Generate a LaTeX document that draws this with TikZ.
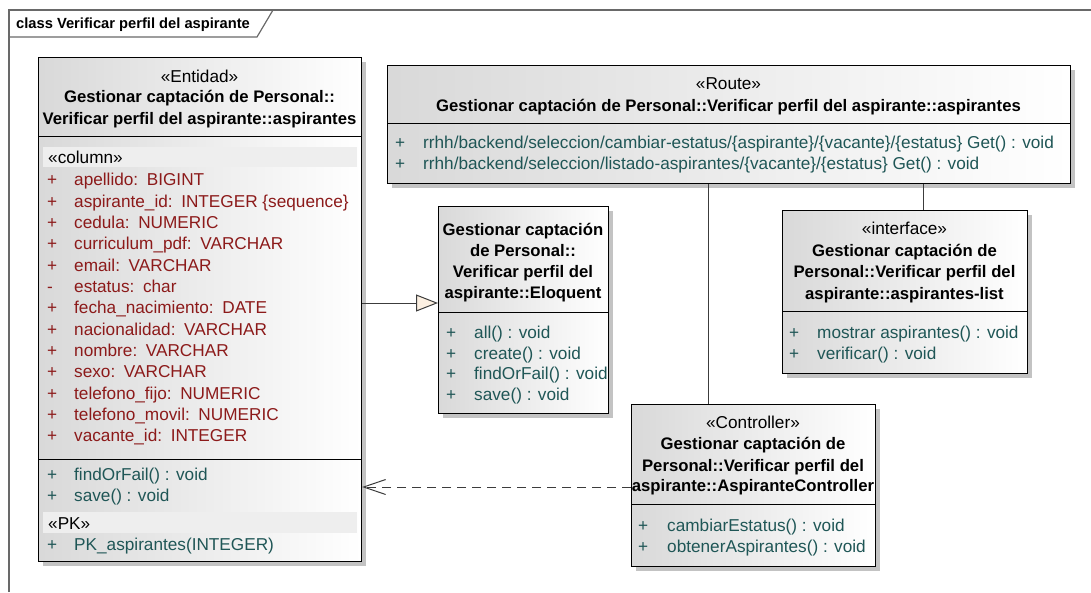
\documentclass[tikz,border=0pt]{standalone}
\usepackage{fontspec}
\setmainfont{Liberation Sans}
\usetikzlibrary{shadows,arrows.meta}
\definecolor{attrc}{RGB}{140,26,26}
\definecolor{operc}{RGB}{31,86,86}
\definecolor{bandc}{RGB}{238,238,238}
\definecolor{shadc}{RGB}{195,195,195}
\definecolor{framec}{RGB}{105,105,105}
\definecolor{connc}{RGB}{60,60,60}
\definecolor{tric}{RGB}{252,240,226}
\tikzset{
  umlbox/.style={draw=black, line width=1.1pt, left color=black!15, right color=white,
    anchor=north west, inner sep=0pt,
    drop shadow={shadow xshift=4pt, shadow yshift=-4pt, fill=shadc, opacity=1}},
  bandbox/.style={fill=bandc, anchor=north west, inner sep=0pt},
  sepline/.style={draw=black, line width=1pt},
  rowtxt/.style={font=\fontsize{17.2}{20}\selectfont, anchor=base west, inner sep=0pt},
  attrtxt/.style={rowtxt, text=attrc},
  opertxt/.style={rowtxt, text=operc},
  stereo/.style={font=\fontsize{17.2}{20}\selectfont, anchor=base, inner sep=0pt},
  ttl/.style={font=\bfseries\fontsize{16.7}{20}\selectfont, anchor=base, inner sep=0pt},
  conn/.style={draw=connc, line width=1pt},
}
\begin{document}
\begin{tikzpicture}[x=1pt,y=-1pt]
\useasboundingbox (0,0) rectangle (1091,592);
% frame
\draw[framec, line width=1.2pt] (9,592) -- (9,10) -- (1091,10);
\draw[framec, line width=1.2pt] (9,37) -- (257,37) -- (273,10);
\node[font=\bfseries\fontsize{14.7}{17}\selectfont, anchor=base west, inner sep=0pt] (flabel) at (16,28.3) {class Verificar perfil del aspirante};

% ---------- Entidad ----------
\node[umlbox, minimum width=323pt, minimum height=504pt] (ent) at (38,57) {};
\node[stereo] (entst) at (199.5,82) {«Entidad»};
\node[ttl] (entt1) at (199.5,102.5) {Gestionar captación de Personal::};
\node[ttl] (entt2) at (199.5,124) {Verificar perfil del aspirante::aspirantes};
\draw[sepline] (ent.west |- 0,136) -- (ent.east |- 0,136);
\node[bandbox, minimum width=314pt, minimum height=20pt] (entband1) at (43,147) {};
\node[rowtxt] (entcol) at (48,163) {«column»};
\foreach \s/\t [count=\i] in {
  +/{apellido:\enspace BIGINT},
  +/{aspirante\_id:\enspace INTEGER \{sequence\}},
  +/{cedula:\enspace NUMERIC},
  +/{curriculum\_pdf:\enspace VARCHAR},
  +/{email:\enspace VARCHAR},
  -/{estatus:\enspace char},
  +/{fecha\_nacimiento:\enspace DATE},
  +/{nacionalidad:\enspace VARCHAR},
  +/{nombre:\enspace VARCHAR},
  +/{sexo:\enspace VARCHAR},
  +/{telefono\_fijo:\enspace NUMERIC},
  +/{telefono\_movil:\enspace NUMERIC},
  +/{vacante\_id:\enspace INTEGER}}{
  \node[attrtxt] (eas\i) at (47,185.7+21.33*\i-21.33) {\s};
  \node[attrtxt] (ea\i) at (74,185.7+21.33*\i-21.33) {\t};
}
\draw[sepline] (ent.west |- 0,459) -- (ent.east |- 0,459);
\node[opertxt] (emp1) at (47,480) {+};
\node[opertxt] (em1) at (74,480) {findOrFail() : void};
\node[opertxt] (emp2) at (47,501.7) {+};
\node[opertxt] (em2) at (74,501.7) {save() : void};
\node[bandbox, minimum width=314pt, minimum height=21pt] (entband2) at (43,512) {};
\node[rowtxt] (entpk) at (48,529) {«PK»};
\node[opertxt] (epkp) at (47,550.7) {+};
\node[opertxt] (epk) at (74,550.7) {PK\_aspirantes(INTEGER)};

% ---------- Route ----------
\node[umlbox, minimum width=683pt, minimum height=118pt] (route) at (387,65) {};
\node[stereo] (routest) at (728.5,89) {«Route»};
\node[ttl] (routet) at (728.5,111) {Gestionar captación de Personal::Verificar perfil del aspirante::aspirantes};
\draw[sepline] (route.west |- 0,123) -- (route.east |- 0,123);
\node[opertxt] (rp1) at (395,148.5) {+};
\node[opertxt] (r1) at (423,148.5) {rrhh/backend/seleccion/cambiar-estatus/\{aspirante\}/\{vacante\}/\{estatus\} Get() : void};
\node[opertxt] (rp2) at (395,169) {+};
\node[opertxt] (r2) at (423,169) {rrhh/backend/seleccion/listado-aspirantes/\{vacante\}/\{estatus\} Get() : void};

% ---------- Eloquent ----------
\node[umlbox, minimum width=170pt, minimum height=207pt] (elo) at (438,206) {};
\node[ttl] (elot1) at (523,235.5) {Gestionar captación};
\node[ttl] (elot2) at (523,256.7) {de Personal::};
\node[ttl] (elot3) at (523,277.5) {Verificar perfil del};
\node[ttl] (elot4) at (523,298.5) {aspirante::Eloquent};
\draw[sepline] (elo.west |- 0,312) -- (elo.east |- 0,312);
\foreach \t [count=\i] in {all() : void, create() : void, findOrFail() : void, save() : void}{
  \node[opertxt] (elop\i) at (446,338.3+20.7*\i-20.7) {+};
  \node[opertxt] (elom\i) at (474,338.3+20.7*\i-20.7) {\t};
}

% ---------- Interface ----------
\node[umlbox, minimum width=245pt, minimum height=163pt] (iface) at (782,210) {};
\node[stereo] (ifst) at (904.5,234.3) {«interface»};
\node[ttl] (ift1) at (904.5,256) {Gestionar captación de};
\node[ttl] (ift2) at (904.5,277.3) {Personal::Verificar perfil del};
\node[ttl] (ift3) at (904.5,299) {aspirante::aspirantes-list};
\draw[sepline] (iface.west |- 0,311) -- (iface.east |- 0,311);
\node[opertxt] (ifp1) at (789,338.3) {+};
\node[opertxt] (ifm1) at (817,338.3) {mostrar aspirantes() : void};
\node[opertxt] (ifp2) at (789,359.3) {+};
\node[opertxt] (ifm2) at (817,359.3) {verificar() : void};

% ---------- Controller ----------
\node[umlbox, minimum width=244pt, minimum height=162pt] (ctl) at (631,404) {};
\node[stereo] (ctlst) at (753,428.3) {«Controller»};
\node[ttl] (ctlt1) at (753,449.3) {Gestionar captación de};
\node[ttl] (ctlt2) at (753,471) {Personal::Verificar perfil del};
\node[ttl] (ctlt3) at (753,491.7) {aspirante::AspiranteController};
\draw[sepline] (ctl.west |- 0,504) -- (ctl.east |- 0,504);
\node[opertxt] (ctlp1) at (638,531.7) {+};
\node[opertxt] (ctlm1) at (667,531.7) {cambiarEstatus() : void};
\node[opertxt] (ctlp2) at (638,552.7) {+};
\node[opertxt] (ctlm2) at (667,552.7) {obtenerAspirantes() : void};

% ---------- connectors ----------
\draw[conn, -{Triangle[open, length=22pt, width=17pt, fill=tric]}] (ent.east |- 0,303) -- (elo.west |- 0,303);
\draw[conn, dash pattern=on 9pt off 6pt, -{Straight Barb[length=22pt, width=15pt]}] (ctl.west |- 0,487) -- (ent.east |- 0,487);
\draw[conn] (route.south -| 708,0) -- (ctl.north -| 708,0);
\draw[conn] (route.south -| 923,0) -- (iface.north -| 923,0);
\end{tikzpicture}
\end{document}
